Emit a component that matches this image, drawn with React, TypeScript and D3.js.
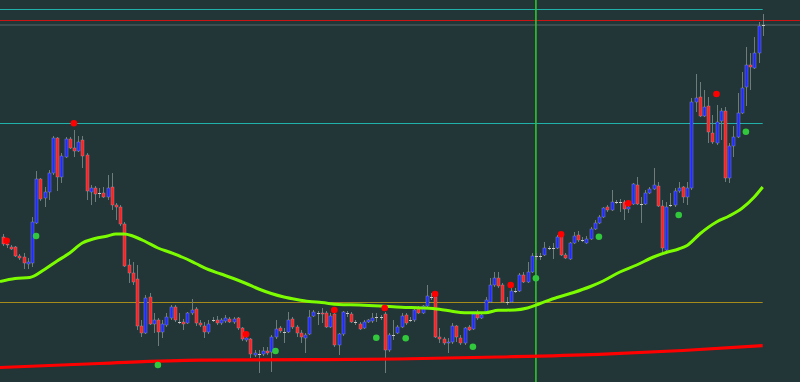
import React from 'react';
import * as d3 from 'd3';

const W = 800;
const H = 382;

// Candle data (price in chart units)
const opens = [
  163, 156, 153, 153, 144, 143, 136, 137, 177, 221,
  202, 208, 227, 262, 223, 243, 261, 252, 249, 260,
  245, 208, 212, 207, 207, 203, 213, 195, 193, 176,
  135, 127, 121, 74, 67, 103, 76, 80, 68, 75,
  82, 93, 78, 78, 77, 87, 91, 77, 74, 68,
  80, 80, 77, 79, 81, 78, 82, 72, 60, 61,
  45, 46, 46, 49, 48, 63, 72, 68, 68, 81,
  73, 67, 62, 66, 84, 87, 87, 87, 73, 86,
  55, 66, 87, 86, 78, 76, 72, 78, 79, 83,
  83, 86, 50, 65, 67, 73, 85, 80, 80, 91,
  87, 94, 103, 103, 63, 61, 57, 58, 74, 62,
  57, 73, 71, 86, 82, 87, 98, 115, 122, 115,
  98, 98, 109, 109, 125, 118, 128, 144, 144, 145,
  152, 152, 152, 165, 145, 141, 157, 165, 160, 157,
  161, 171, 177, 183, 193, 190, 198, 198, 198, 191,
  196, 215, 196, 196, 207, 211, 214, 194, 150, 195,
  195, 209, 213, 203, 212, 298, 303, 284, 294, 267,
  257, 279, 289, 222, 254, 263, 287, 313, 335, 332,
  347, 375,
];
const highs = [
  166, 160, 155, 154, 146, 147, 142, 183, 229, 222,
  213, 230, 264, 263, 247, 263, 263, 270, 264, 264,
  247, 215, 214, 212, 213, 225, 227, 197, 195, 178,
  141, 138, 135, 80, 105, 107, 87, 82, 80, 87,
  95, 95, 87, 81, 88, 101, 93, 80, 78, 80,
  83, 84, 82, 85, 83, 83, 83, 73, 64, 62,
  50, 50, 53, 53, 65, 80, 74, 72, 88, 83,
  75, 70, 67, 90, 90, 89, 92, 89, 87, 87,
  67, 89, 89, 88, 80, 78, 80, 81, 87, 87,
  85, 88, 67, 80, 75, 87, 87, 83, 92, 94,
  95, 115, 107, 107, 72, 63, 62, 77, 75, 65,
  73, 75, 87, 90, 86, 103, 122, 128, 128, 117,
  103, 117, 112, 127, 128, 138, 147, 147, 147, 158,
  154, 157, 165, 166, 147, 158, 168, 169, 163, 164,
  173, 180, 185, 193, 195, 210, 200, 201, 200, 200,
  217, 223, 203, 210, 213, 232, 218, 200, 198, 207,
  212, 218, 214, 218, 302, 326, 318, 310, 303, 285,
  295, 292, 293, 257, 274, 307, 328, 353, 347, 363,
  378, 386,
];
const lows = [
  154, 152, 150, 143, 140, 131, 131, 133, 176, 199,
  193, 200, 225, 209, 217, 242, 251, 243, 248, 232,
  200, 195, 198, 202, 202, 200, 190, 180, 174, 133,
  117, 115, 70, 63, 66, 75, 67, 54, 62, 73,
  80, 78, 76, 70, 76, 85, 74, 73, 62, 66,
  78, 75, 75, 77, 77, 76, 70, 59, 58, 42,
  43, 27, 44, 45, 28, 61, 67, 57, 67, 71,
  63, 57, 47, 65, 83, 75, 77, 72, 72, 53,
  45, 64, 83, 77, 75, 70, 71, 77, 77, 78,
  80, 27, 48, 60, 66, 72, 75, 78, 78, 86,
  86, 93, 100, 62, 57, 55, 47, 56, 58, 55,
  55, 69, 70, 80, 81, 86, 97, 113, 112, 97,
  95, 97, 107, 108, 117, 117, 127, 140, 140, 144,
  150, 141, 151, 144, 141, 140, 156, 158, 158, 156,
  160, 170, 176, 182, 188, 189, 196, 188, 180, 187,
  195, 195, 177, 195, 206, 210, 193, 148, 149, 193,
  193, 207, 197, 195, 210, 288, 283, 283, 257, 256,
  255, 260, 218, 217, 243, 262, 286, 294, 310, 331,
  337, 364,
];
const closes = [
  156, 155, 151, 144, 142, 137, 138, 178, 221, 201,
  208, 227, 262, 223, 244, 261, 252, 249, 258, 244,
  209, 212, 206, 207, 203, 212, 195, 193, 176, 134,
  127, 118, 74, 67, 102, 76, 80, 68, 76, 83,
  93, 80, 78, 76, 87, 90, 77, 75, 68, 76,
  80, 77, 80, 82, 78, 81, 72, 61, 62, 46,
  47, 46, 49, 47, 63, 71, 69, 68, 80, 73,
  67, 63, 65, 83, 88, 87, 86, 73, 84, 55,
  66, 88, 87, 78, 78, 71, 78, 80, 82, 83,
  83, 50, 65, 65, 73, 84, 77, 80, 90, 87,
  94, 104, 103, 63, 61, 57, 58, 74, 63, 57,
  72, 70, 86, 82, 85, 100, 115, 122, 114, 98,
  98, 109, 109, 125, 118, 128, 144, 144, 144, 152,
  152, 152, 163, 145, 142, 157, 164, 160, 160, 161,
  171, 177, 183, 192, 190, 198, 198, 198, 191, 193,
  216, 196, 196, 207, 211, 215, 194, 152, 193, 195,
  209, 212, 203, 212, 298, 302, 284, 293, 268, 258,
  278, 289, 222, 254, 263, 287, 312, 335, 333, 347,
  374, 375,
];

// Fast moving average (read at sample bars)
const maIdx = [
  -0.6, 3, 6.5, 10, 13, 16, 19, 22, 25, 27, 29, 31, 34, 37, 40, 43, 46, 49, 52, 55,
  58, 61, 64, 67, 70, 73, 76, 80, 85, 90, 95, 100, 104, 107, 110, 115, 118, 122, 125, 128,
  132, 136, 140, 143, 147, 151, 155, 158, 161, 163, 166, 170, 173, 176, 179, 181,
];
const maVal = [
  118.5, 121.5, 122.5, 130.5, 139, 147, 157, 161.5, 164, 166, 166, 164, 158.5, 152, 147.5, 142.5, 136.5, 130.5, 126, 121.5,
  116.5, 111, 106.5, 103, 100.5, 98.5, 97.5, 95.5, 95, 94, 92.7, 92, 90.7, 88.7, 87.3, 87.3, 89.7, 90, 92, 96.5,
  102.5, 107.5, 113.5, 119, 128, 135, 143, 147.5, 151, 154.5, 166, 178, 184, 191.5, 203, 213,
];

// Slow moving average
const slowIdx = [-0.6, 23, 47, 71, 94, 118, 142, 162, 181];
const slowVal = [32.5, 36.5, 39.8, 40.3, 41, 43, 45.7, 49.5, 54.3];

// Fractal markers
const upIdx = [1, 17, 58, 79, 91, 103, 121, 133, 149, 170];
const upVal = [159.3, 276.7, 65.7, 90, 92, 106, 115, 165.7, 196.7, 306];
const downIdx = [8, 37, 65, 89, 96, 112, 127, 142, 161, 177];
const downVal = [164, 35, 49, 62.3, 61.7, 53.3, 121.7, 163.3, 185, 268.3];

// Horizontal levels and vertical cursor bar
const levelVals = [390.7, 379.7, 375.2, 276.7, 97.7];
const levelColors = ['#20b2aa', '#cc1414', '#3c4e50', '#20b2aa', '#a68b1a'];
const levelWidths = [1, 1, 2, 1, 1];
const levelFull = [false, true, true, false, false];
const cursorIdx = 127;

export default function App() {
  const n = opens.length;
  const x = d3.scaleLinear().domain([0, n - 1]).range([2.5, 762.7]);
  const y = d3.scaleLinear().domain([18, 400]).range([H, 0]);

  const ma = d3
    .line<number>()
    .x((d, i) => x(maIdx[i]))
    .y((d) => y(d))
    .curve(d3.curveMonotoneX)(maVal);
  const slow = d3
    .line<number>()
    .x((d, i) => x(slowIdx[i]))
    .y((d) => y(d))
    .curve(d3.curveMonotoneX)(slowVal);

  const lastX = x(n - 1);

  return (
    <svg
      width={W}
      height={H}
      style={{ position: 'absolute', left: 0, top: 0, display: 'block' }}
    >
      <rect x={0} y={0} width={W} height={H} fill="#223537" />
      {levelVals.map((v, i) => {
        const yy = Math.round(y(v)) + (levelWidths[i] === 1 ? 0.5 : 0);
        return (
          <line
            key={'lv' + i}
            x1={0}
            x2={levelFull[i] ? W : lastX}
            y1={yy}
            y2={yy}
            stroke={levelColors[i]}
            strokeWidth={levelWidths[i]}
          />
        );
      })}
      <line
        x1={x(cursorIdx)}
        x2={x(cursorIdx)}
        y1={0}
        y2={H}
        stroke="#2fc42f"
        strokeWidth={1.6}
      />
      {opens.map((o, i) => {
        const c = closes[i];
        const cx = Math.round(x(i));
        const yh = y(highs[i]);
        const yl = y(lows[i]);
        const yo = y(o);
        const yc = y(c);
        const top = Math.min(yo, yc);
        const h = Math.abs(yo - yc);
        const doji = Math.abs(o - c) < 0.5;
        const color = c > o ? '#1f2bff' : '#ff2020';
        return (
          <g key={'c' + i}>
            <line
              x1={cx + 0.5}
              x2={cx + 0.5}
              y1={yh}
              y2={yl}
              stroke="#6f7c7c"
              strokeWidth={1}
            />
            {doji ? (
              <rect x={cx - 1} y={Math.round(yo)} width={3} height={1} fill="#c8c8c8" />
            ) : (
              <rect
                x={cx - 1}
                y={top}
                width={3}
                height={Math.max(1, h)}
                fill={color}
                stroke="rgba(175,175,200,0.55)"
                strokeWidth={0.6}
              />
            )}
          </g>
        );
      })}
      <path d={slow || ''} fill="none" stroke="#ff0000" strokeWidth={3.2} />
      <path d={ma || ''} fill="none" stroke="#7cfc00" strokeWidth={3} strokeLinejoin="round" />
      {upIdx.map((idx, i) => (
        <circle key={'u' + i} cx={x(idx)} cy={y(upVal[i])} r={3.3} fill="#ff0000" />
      ))}
      {downIdx.map((idx, i) => (
        <circle key={'d' + i} cx={x(idx)} cy={y(downVal[i])} r={3.3} fill="#32c83c" />
      ))}
    </svg>
  );
}
